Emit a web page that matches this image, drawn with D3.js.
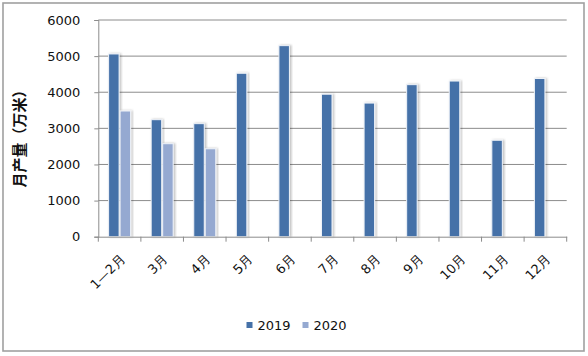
<!DOCTYPE html>
<html><head><meta charset="utf-8">
<script src="https://cdn.jsdelivr.net/npm/d3@7"></script>
<style>
html,body{margin:0;padding:0;background:#fff;}
svg{display:block;}
</style></head>
<body>
<svg id="c" width="588" height="356"></svg>
<script>
const categories = ["1—2月","3月","4月","5月","6月","7月","8月","9月","10月","11月","12月"];
const series = ["2019","2020"];
const values2019 = [5060, 3240, 3130, 4525, 5290, 3945, 3700, 4210, 4310, 2670, 4380];
const values2020 = [3480, 2575, 2435, null, null, null, null, null, null, null, null];
const yTicks = [0,1000,2000,3000,4000,5000,6000];
const colors = ["#4571a8", "#95a9d1"];

const svg = d3.select("#c");
const defs = svg.append("defs");
const f = defs.append("filter").attr("id","sh").attr("x","-30%").attr("y","-10%").attr("width","160%").attr("height","120%");
f.append("feDropShadow").attr("dx",1.5).attr("dy",0).attr("stdDeviation",1.2).attr("flood-color","#000").attr("flood-opacity",0.25);

// outer border
svg.append("rect").attr("x",3).attr("y",3).attr("width",581).attr("height",348)
  .attr("fill","#fff").attr("stroke","#a0a0a0").attr("stroke-width",1.6);

const L=98.3, R=566.7, T=20, B=236.7;
const x = d3.scaleBand().domain(categories).range([L,R]).paddingInner(0.46).paddingOuter(0.23);
const xs = d3.scaleBand().domain(series).range([0,x.bandwidth()]);
const y = d3.scaleLinear().domain([0,6000]).range([B,T]);

// gridlines
svg.append("g").selectAll("line").data(yTicks.filter(d=>d>0)).join("line")
  .attr("x1",L).attr("x2",R).attr("y1",d=>y(d)).attr("y2",d=>y(d))
  .attr("stroke","#8c8c8c").attr("stroke-width",1);

// y axis
const ya = svg.append("g").attr("transform",`translate(${L},0)`)
  .call(d3.axisLeft(y).tickValues(yTicks).tickSize(4).tickPadding(14).tickFormat(d3.format("d")));
ya.select(".domain").attr("stroke","#8c8c8c");
ya.selectAll(".tick line").attr("stroke","#8c8c8c");
ya.selectAll("text").attr("font-family","DejaVu Sans").attr("font-size",13).attr("fill","#111");

// bars
const data = [];
categories.forEach((c,i)=>{
  [values2019[i], values2020[i]].forEach((v,j)=>{ if(v!=null) data.push({c, s:series[j], v, j}); });
});
svg.append("g").selectAll("rect").data(data).join("rect")
  .attr("x",d=>x(d.c)+xs(d.s)+0.5)
  .attr("y",d=>y(d.v))
  .attr("width",xs.bandwidth()-1)
  .attr("height",d=>B-y(d.v))
  .attr("fill",d=>colors[d.j])
  .attr("stroke","#eef2f8").attr("stroke-width",1)
  .attr("filter","url(#sh)");

// x axis
const xa = svg.append("g").attr("transform",`translate(0,${B})`)
  .call(d3.axisBottom(x).tickSize(0).tickFormat(""));
xa.select(".domain").attr("stroke","#8c8c8c");
const xt = d3.scaleLinear().domain([0,categories.length]).range([L,R]);
svg.append("g").selectAll("line").data(d3.range(categories.length+1)).join("line")
  .attr("x1",d=>xt(d)).attr("x2",d=>xt(d)).attr("y1",B).attr("y2",B+5)
  .attr("stroke","#8c8c8c");
svg.append("g").selectAll("text").data(categories).join("text")
  .attr("transform",d=>`translate(${x(d)+x.bandwidth()/2+3},${B+20}) rotate(-45)`)
  .attr("text-anchor","end").attr("dy","0.35em")
  .attr("font-family","DejaVu Sans").attr("font-size",13).attr("fill","#111")
  .text(d=>d);

// y title
svg.append("text").attr("transform",`translate(20,135) rotate(-90)`)
  .attr("text-anchor","middle").attr("dy","0.35em")
  .attr("font-family","Noto Sans CJK SC").attr("font-weight","bold").attr("font-size",15).attr("fill","#111")
  .text("月产量（万米）");

// legend
const lg = svg.append("g");
const lx = [246.5, 302.5];
series.forEach((s,i)=>{
  lg.append("rect").attr("x",lx[i]).attr("y",322).attr("width",6).attr("height",6).attr("fill",colors[i]);
  lg.append("text").attr("x",lx[i]+11).attr("y",325.5).attr("dy","0.35em")
    .attr("font-family","DejaVu Sans").attr("font-size",13).attr("fill","#111").text(s);
});
</script>
</body></html>
